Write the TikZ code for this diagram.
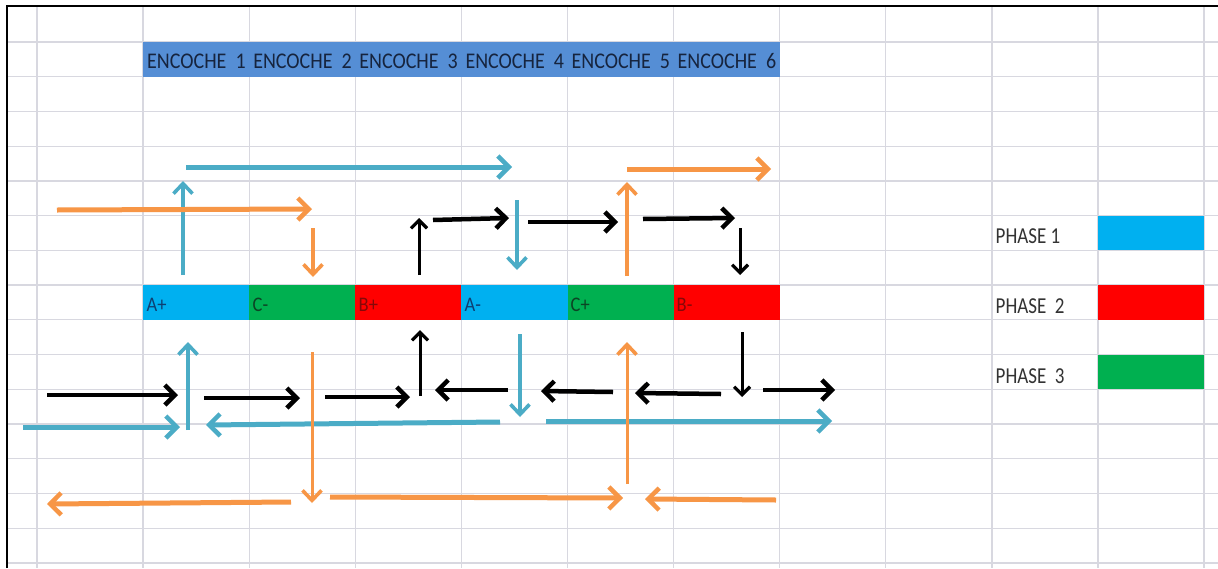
\documentclass[tikz,border=0pt]{standalone}
\usepackage{fontspec}
\setmainfont{Carlito}
\usetikzlibrary{arrows.meta}
\definecolor{hdr}{HTML}{558ED5}
\definecolor{hdrtxt}{HTML}{16243E}
\definecolor{pblue}{HTML}{00B0F0}
\definecolor{pred}{HTML}{FF0000}
\definecolor{pgreen}{HTML}{00B050}
\definecolor{tblue}{HTML}{0E3F72}
\definecolor{tred}{HTML}{850808}
\definecolor{tgreen}{HTML}{0C4424}
\definecolor{ablue}{HTML}{4BACC6}
\definecolor{aorange}{HTML}{F79646}
\definecolor{gridc}{HTML}{D8D8E0}
\begin{document}
\begin{tikzpicture}[x=1pt,y=-1pt,
  cell/.style={minimum width=106.1pt,minimum height=34.7pt,inner sep=0pt,outer sep=0pt,anchor=north west,draw=none},
  hdrtext/.style={font=\fontsize{20}{22}\selectfont,text=hdrtxt,anchor=base west,inner sep=0pt},
  lbl/.style={font=\fontsize{18.5}{20}\selectfont,anchor=base west,inner sep=0pt},
  legtext/.style={font=\fontsize{19}{21}\selectfont,text=black!80,anchor=base west,inner sep=0pt},
  gridline/.style={draw=gridc,line width=1.3pt},
  harr/.style={line width=5pt,-{Straight Barb[length=11pt,width=22pt,line width=4.5pt]}},
  varr/.style={line width=3.4pt,-{Straight Barb[length=10pt,width=19pt,line width=3.6pt]}},
  hblk/.style={line width=4.5pt,black,-{Straight Barb[length=10pt,width=20pt,line width=4.5pt]}},
  vblk/.style={line width=3pt,black,-{Straight Barb[length=8pt,width=16pt,line width=3.2pt]}}
]
\useasboundingbox (0,0) rectangle (1218,568);
\fill[white] (0,0) rectangle (1218,568);
% grid
\foreach \i in {0,...,11} \draw[gridline] ({37+106.1*\i},6) -- ({37+106.1*\i},568);
\foreach \j in {0,...,15} \draw[gridline] (7,{42+34.73*\j}) -- (1218,{42+34.73*\j});
% border
\draw[line width=2.4pt] (7,568) -- (7,6) -- (1218,6);
% header
\foreach \k in {1,...,6} {
  \node[cell,fill=hdr] (h\k) at ({143.1+106.1*(\k-1)},42) {};
}
\foreach \k in {1,...,6} {
  \node[hdrtext] (ht\k) at ({147+106.1*(\k-1)},68.5) {\scalebox{1}[1.12]{ENCOCHE\ \ \k}};
}
% phase bar
\node[cell,fill=pblue]  (c1) at (143.1,285.1) {};
\node[cell,fill=pgreen] (c2) at (249.2,285.1) {};
\node[cell,fill=pred]   (c3) at (355.3,285.1) {};
\node[cell,fill=pblue]  (c4) at (461.4,285.1) {};
\node[cell,fill=pgreen] (c5) at (567.5,285.1) {};
\node[cell,fill=pred]   (c6) at (673.6,285.1) {};
\node[lbl,text=tblue]  (l1) at (146.5,311) {\scalebox{1}[1.12]{A+}};
\node[lbl,text=tgreen] (l2) at (252.5,311) {\scalebox{1}[1.12]{C-}};
\node[lbl,text=tred]   (l3) at (358.5,311) {\scalebox{1}[1.12]{B+}};
\node[lbl,text=tblue]  (l4) at (464.5,311) {\scalebox{1}[1.12]{A-}};
\node[lbl,text=tgreen] (l5) at (570.5,311) {\scalebox{1}[1.12]{C+}};
\node[lbl,text=tred]   (l6) at (676.5,311) {\scalebox{1}[1.12]{B-}};
% legend
\node[cell,fill=pblue]  (g1) at (1098,215.7) {};
\node[cell,fill=pred]   (g2) at (1098,285.1) {};
\node[cell,fill=pgreen] (g3) at (1098,354.6) {};
\node[legtext] (p1) at (995.5,243) {\scalebox{1}[1.2]{PHASE 1}};
\node[legtext] (p2) at (995.5,313) {\scalebox{1}[1.2]{PHASE\ \ 2}};
\node[legtext] (p3) at (995.5,383) {\scalebox{1}[1.2]{PHASE\ \ 3}};
% blue arrows
\draw[harr,ablue] (186,167) -- (512,167);
\draw[varr,ablue] (183,275) -- (183,181);
\draw[varr,ablue] (517,200) -- (517,270);
\draw[varr,ablue] (188,430) -- (188,342);
\draw[harr,ablue] (23,427) -- (180,427);
\draw[harr,ablue] (500,422) -- (206,425);
\draw[varr,ablue] (520,334) -- (520,417);
\draw[harr,ablue] (546,421) -- (832,421);
% orange arrows
\draw[harr,aorange] (57,210) -- (312,209);
\draw[varr,aorange] (313,228) -- (313,277);
\draw[varr,aorange] (627,276) -- (627,182);
\draw[harr,aorange] (627,169) -- (771,169);
\draw[varr,aorange,line width=3pt] (312,352) -- (312,503);
\draw[varr,aorange,line width=3pt] (627,484) -- (627,342);
\draw[harr,aorange] (291,502) -- (47,504);
\draw[harr,aorange] (330,497) -- (623,498);
\draw[harr,aorange] (776,500) -- (645,499);
% black arrows
\draw[vblk] (419,275) -- (419,218);
\draw[hblk] (433,220) -- (509,218);
\draw[hblk] (528,222) -- (618,222);
\draw[hblk] (643,219) -- (735,218);
\draw[vblk] (740,228) -- (740,275);
\draw[hblk] (47,395) -- (178,395);
\draw[hblk] (204,398) -- (300,398);
\draw[hblk] (325,397) -- (410,397);
\draw[vblk] (420,396) -- (420,330);
\draw[hblk] (508,390) -- (435,390);
\draw[hblk] (613,392) -- (541,391);
\draw[hblk] (721,394) -- (635,393);
\draw[vblk] (742,332) -- (742,397);
\draw[hblk] (763,390) -- (835,390);
\end{tikzpicture}
\end{document}
